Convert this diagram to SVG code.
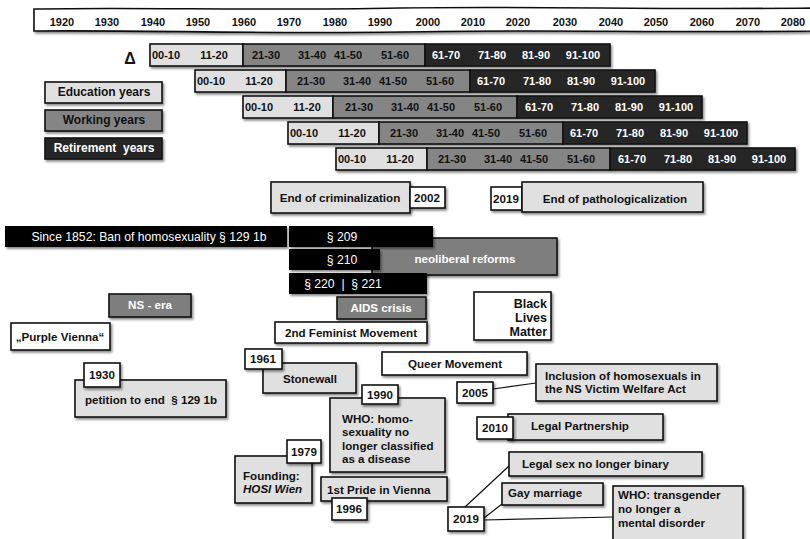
<svg xmlns="http://www.w3.org/2000/svg" width="810" height="539" viewBox="0 0 810 539">
<defs>
<filter id="sh" x="-10%" y="-20%" width="130%" height="160%">
<feDropShadow dx="1.5" dy="2" stdDeviation="1.2" flood-color="#000" flood-opacity="0.45"/>
</filter>
<style>
text{font-family:"Liberation Sans",Arial,sans-serif;font-size:11.6px;font-weight:bold;fill:#111;white-space:pre}
.yr{font-size:11px}
.n{font-size:11px}
.c{text-anchor:middle}
.w{fill:#fff}
.reg{font-weight:normal;font-size:12.2px}
.b{stroke:#111;stroke-width:1.6}
.edu{fill:#e0e0e0}
.work{fill:#858585}
.ret{fill:#262626}
.blk{fill:#000}
.wh{fill:#fff}
.lg{fill:#e0e0e0}
.dg{fill:#7e7e7e}
.conn{stroke:#111;stroke-width:1.2;fill:none}
</style>
</defs>
<rect width="810" height="539" fill="#fff"/>
<g id="timeline">
<path d="M34,9 C150,7 250,11 400,8 C550,6 650,10 812,8 L812,31 C650,33 550,29 400,32 C250,34 150,30 34,31 Z" fill="#fff" class="b" filter="url(#sh)"/>
<text class="c yr" x="62" y="26">1920</text>
<text class="c yr" x="107" y="26">1930</text>
<text class="c yr" x="153" y="26">1940</text>
<text class="c yr" x="198" y="26">1950</text>
<text class="c yr" x="244" y="26">1960</text>
<text class="c yr" x="289" y="26">1970</text>
<text class="c yr" x="335" y="26">1980</text>
<text class="c yr" x="380" y="26">1990</text>
<text class="c yr" x="428" y="26">2000</text>
<text class="c yr" x="473" y="26">2010</text>
<text class="c yr" x="518" y="26">2020</text>
<text class="c yr" x="565" y="26">2030</text>
<text class="c yr" x="611" y="26">2040</text>
<text class="c yr" x="656" y="26">2050</text>
<text class="c yr" x="702" y="26">2060</text>
<text class="c yr" x="748" y="26">2070</text>
<text class="c yr" x="793" y="26">2080</text>
</g>
<g id="delta"><text class="c" x="130" y="64" style="font-size:16px">Δ</text></g>
<g id="cohort1" transform="translate(150,44)">
<g filter="url(#sh)"><rect class="edu b" x="0" y="0" width="93" height="22"/><rect class="work b" x="93" y="0" width="182" height="22"/><rect class="ret b" x="275" y="0" width="185" height="22"/></g>
<text class="c n" x="16" y="15">00-10</text><text class="c n" x="64" y="15">11-20</text>
<text class="c n" x="116" y="15">21-30</text><text class="c n" x="162" y="15">31-40</text><text class="c n" x="198" y="15">41-50</text><text class="c n" x="245" y="15">51-60</text>
<text class="c n w" x="296" y="15">61-70</text><text class="c n w" x="342" y="15">71-80</text><text class="c n w" x="386" y="15">81-90</text><text class="c n w" x="433" y="15">91-100</text>
</g>
<g id="cohort2" transform="translate(195,70)">
<g filter="url(#sh)"><rect class="edu b" x="0" y="0" width="91" height="22"/><rect class="work b" x="91" y="0" width="184" height="22"/><rect class="ret b" x="275" y="0" width="185" height="22"/></g>
<text class="c n" x="16" y="15">00-10</text><text class="c n" x="64" y="15">11-20</text>
<text class="c n" x="116" y="15">21-30</text><text class="c n" x="162" y="15">31-40</text><text class="c n" x="198" y="15">41-50</text><text class="c n" x="245" y="15">51-60</text>
<text class="c n w" x="296" y="15">61-70</text><text class="c n w" x="342" y="15">71-80</text><text class="c n w" x="386" y="15">81-90</text><text class="c n w" x="433" y="15">91-100</text>
</g>
<g id="cohort3" transform="translate(243,96)">
<g filter="url(#sh)"><rect class="edu b" x="0" y="0" width="90" height="22"/><rect class="work b" x="90" y="0" width="184" height="22"/><rect class="ret b" x="274" y="0" width="185" height="22"/></g>
<text class="c n" x="16" y="15">00-10</text><text class="c n" x="64" y="15">11-20</text>
<text class="c n" x="116" y="15">21-30</text><text class="c n" x="162" y="15">31-40</text><text class="c n" x="198" y="15">41-50</text><text class="c n" x="245" y="15">51-60</text>
<text class="c n w" x="296" y="15">61-70</text><text class="c n w" x="342" y="15">71-80</text><text class="c n w" x="386" y="15">81-90</text><text class="c n w" x="433" y="15">91-100</text>
</g>
<g id="cohort4" transform="translate(288,122)">
<g filter="url(#sh)"><rect class="edu b" x="0" y="0" width="91" height="22"/><rect class="work b" x="91" y="0" width="184" height="22"/><rect class="ret b" x="275" y="0" width="184" height="22"/></g>
<text class="c n" x="16" y="15">00-10</text><text class="c n" x="64" y="15">11-20</text>
<text class="c n" x="116" y="15">21-30</text><text class="c n" x="162" y="15">31-40</text><text class="c n" x="198" y="15">41-50</text><text class="c n" x="245" y="15">51-60</text>
<text class="c n w" x="296" y="15">61-70</text><text class="c n w" x="342" y="15">71-80</text><text class="c n w" x="386" y="15">81-90</text><text class="c n w" x="433" y="15">91-100</text>
</g>
<g id="cohort5" transform="translate(336,148)">
<g filter="url(#sh)"><rect class="edu b" x="0" y="0" width="91" height="22"/><rect class="work b" x="91" y="0" width="183" height="22"/><rect class="ret b" x="274" y="0" width="185" height="22"/></g>
<text class="c n" x="16" y="15">00-10</text><text class="c n" x="64" y="15">11-20</text>
<text class="c n" x="116" y="15">21-30</text><text class="c n" x="162" y="15">31-40</text><text class="c n" x="198" y="15">41-50</text><text class="c n" x="245" y="15">51-60</text>
<text class="c n w" x="296" y="15">61-70</text><text class="c n w" x="342" y="15">71-80</text><text class="c n w" x="386" y="15">81-90</text><text class="c n w" x="433" y="15">91-100</text>
</g>
<g id="legend-education"><rect class="edu b" x="45" y="82" width="117" height="21" filter="url(#sh)"/><text class="c" x="104" y="96" style="font-size:12px">Education years</text></g>
<g id="legend-working"><rect class="work b" x="45" y="110" width="117" height="21" filter="url(#sh)"/><text class="c" x="104" y="124" style="font-size:12px">Working years</text></g>
<g id="legend-retirement"><rect class="ret b" x="45" y="138" width="117" height="21" filter="url(#sh)"/><text class="c w" x="104" y="152" style="font-size:12px">Retirement  years</text></g>
<g id="end-criminalization"><rect class="lg b" x="271" y="182" width="139" height="31" filter="url(#sh)"/><text class="c" x="340" y="202">End of criminalization</text>
<rect class="wh b" x="410" y="187" width="35" height="21" filter="url(#sh)"/><text class="c" x="427" y="202">2002</text></g>
<g id="end-pathologicalization"><rect class="wh b" x="491" y="187" width="31" height="23" filter="url(#sh)"/><text class="c" x="506" y="203">2019</text>
<rect class="lg b" x="522" y="182" width="181" height="30" filter="url(#sh)"/><text class="c" x="615" y="203">End of pathologicalization</text></g>
<g id="neoliberal"><rect class="dg b" x="372" y="238" width="185" height="37" filter="url(#sh)"/><text class="c w" x="465" y="263">neoliberal reforms</text></g>
<g id="ban-1852"><rect class="blk" x="5" y="226" width="282" height="21" filter="url(#sh)"/><text class="c w reg" x="149" y="241">Since 1852: Ban of homosexuality § 129 1b</text></g>
<g id="p209"><rect class="blk" x="289" y="226" width="144" height="21" filter="url(#sh)"/><text class="c w reg" x="342" y="241">§ 209</text></g>
<g id="p210"><rect class="blk" x="289" y="249" width="91" height="21" filter="url(#sh)"/><text class="c w reg" x="342" y="264">§ 210</text></g>
<g id="p220"><rect class="blk" x="289" y="273" width="138" height="21" filter="url(#sh)"/><text class="c w reg" x="343" y="288">§ 220  |  § 221</text></g>
<g id="aids"><rect class="dg b" x="337" y="297" width="89" height="22" filter="url(#sh)"/><text class="c w" x="381" y="312">AIDS crisis</text></g>
<g id="feminist"><rect class="wh b" x="275" y="322" width="152" height="21" filter="url(#sh)"/><text class="c" x="351" y="337">2nd Feminist Movement</text></g>
<g id="ns-era"><rect class="dg b" x="109" y="294" width="82" height="23" filter="url(#sh)"/><text class="c w" x="150" y="309">NS - era</text></g>
<g id="purple-vienna"><rect class="wh b" x="11" y="323" width="99" height="27" filter="url(#sh)"/><text class="c" x="60" y="341">„Purple Vienna“</text></g>
<g id="petition"><rect class="lg b" x="75" y="380" width="151" height="37" filter="url(#sh)"/><text class="c" x="151" y="404">petition to end  § 129 1b</text>
<rect class="wh b" x="84" y="363" width="36" height="24" filter="url(#sh)"/><text class="c" x="102" y="379">1930</text></g>
<g id="blm"><rect class="wh b" x="474" y="292" width="77" height="48" filter="url(#sh)"/>
<text x="547" y="308" text-anchor="end" style="font-size:12.5px">Black</text><text x="547" y="322" text-anchor="end" style="font-size:12.5px">Lives</text><text x="547" y="336" text-anchor="end" style="font-size:12.5px">Matter</text></g>
<g id="stonewall"><rect class="lg b" x="263" y="363" width="93" height="30" filter="url(#sh)"/><text class="c" x="310" y="383">Stonewall</text>
<rect class="wh b" x="245" y="349" width="37" height="20" filter="url(#sh)"/><text class="c" x="263" y="363">1961</text></g>
<g id="queer"><rect class="wh b" x="382" y="352" width="145" height="23" filter="url(#sh)"/><text class="c" x="455" y="368">Queer Movement</text></g>
<g id="who-1990"><rect class="lg b" x="330" y="398" width="115" height="74" filter="url(#sh)"/>
<text x="342" y="423">WHO: homo-</text><text x="342" y="436">sexuality no</text><text x="342" y="450">longer classified</text><text x="342" y="463">as a disease</text>
<rect class="wh b" x="362" y="385" width="36" height="19" filter="url(#sh)"/><text class="c" x="380" y="399">1990</text></g>
<g id="hosi"><rect class="lg b" x="235" y="456" width="77" height="47" filter="url(#sh)"/>
<text x="243" y="480">Founding:</text><text x="243" y="493" style="font-style:italic">HOSI Wien</text>
<rect class="wh b" x="287" y="440" width="34" height="23" filter="url(#sh)"/><text class="c" x="304" y="456">1979</text></g>
<g id="pride"><rect class="lg b" x="321" y="477" width="126" height="24" filter="url(#sh)"/><text x="327" y="494">1st Pride in Vienna</text>
<rect class="wh b" x="332" y="498" width="35" height="22" filter="url(#sh)"/><text class="c" x="349" y="513">1996</text></g>
<g id="connectors">
<line class="conn" x1="493" y1="389" x2="536" y2="383"/>
<line class="conn" x1="465" y1="507" x2="509" y2="466"/>
<line class="conn" x1="484" y1="518" x2="502" y2="504"/>
<line class="conn" x1="484" y1="520" x2="613" y2="517"/>
</g>
<g id="ns-victim"><rect class="lg b" x="536" y="364" width="181" height="37" filter="url(#sh)"/>
<text x="545" y="380">Inclusion of homosexuals in</text><text x="545" y="393">the NS Victim Welfare Act</text></g>
<g id="y2005"><rect class="wh b" x="457" y="382" width="36" height="21" filter="url(#sh)"/><text class="c" x="475" y="397">2005</text></g>
<g id="partnership"><rect class="lg b" x="508" y="414" width="155" height="26" filter="url(#sh)"/><text x="531" y="430">Legal Partnership</text>
<rect class="wh b" x="477" y="417" width="36" height="22" filter="url(#sh)"/><text class="c" x="495" y="432">2010</text></g>
<g id="legal-sex"><rect class="lg b" x="509" y="452" width="193" height="24" filter="url(#sh)"/><text x="522" y="468">Legal sex no longer binary</text></g>
<g id="gay-marriage"><rect class="lg b" x="502" y="483" width="101" height="22" filter="url(#sh)"/><text x="508" y="497">Gay marriage</text></g>
<g id="who-trans"><rect class="lg b" x="613" y="486" width="130" height="58" filter="url(#sh)"/>
<text x="618" y="499">WHO: transgender</text><text x="618" y="513">no longer a</text><text x="618" y="527">mental disorder</text></g>
<g id="y2019"><rect class="wh b" x="448" y="507" width="36" height="24" filter="url(#sh)"/><text class="c" x="466" y="523">2019</text></g>
</svg>
